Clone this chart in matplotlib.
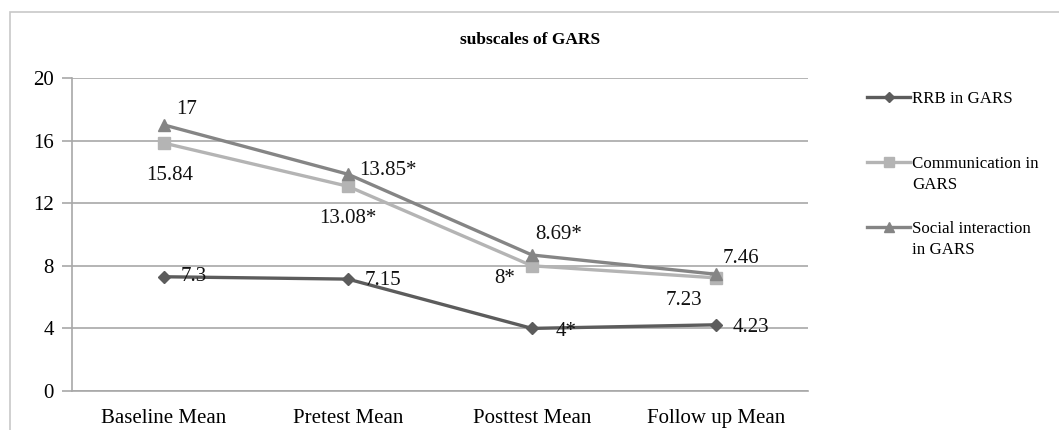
import numpy as np
import matplotlib
matplotlib.use("Agg")
import matplotlib.pyplot as plt
from matplotlib.lines import Line2D
from matplotlib.patches import Rectangle

plt.rcParams['font.family'] = ['Liberation Serif', 'DejaVu Serif']

categories = ["Baseline Mean", "Pretest Mean", "Posttest Mean", "Follow up Mean"]
series_names = ["RRB in GARS", "Communication in\nGARS", "Social interaction\nin GARS"]
rrb = [7.3, 7.15, 4.0, 4.23]
comm = [15.84, 13.08, 8.0, 7.23]
social = [17.0, 13.85, 8.69, 7.46]
rrb_labels = ["7.3", "7.15", "4*", "4.23"]
comm_labels = ["15.84", "13.08*", "8*", "7.23"]
social_labels = ["17", "13.85*", "8.69*", "7.46"]

col_rrb = "#5c5c5c"
col_comm = "#b4b4b4"
col_soc = "#858585"
grid_col = "#a8a8a8"

fig = plt.figure(figsize=(10.59, 4.30), dpi=100)
# outer chart border
fig.patches.append(Rectangle((10 / 1059, -0.1), 1.2, (430 - 12) / 430 + 0.1,
                             transform=fig.transFigure, fill=False,
                             edgecolor="#c8c8c8", linewidth=1.2))

ax = fig.add_axes([72 / 1059, 39 / 430, 736 / 1059, 313 / 430])
x = np.arange(len(categories))

ax.plot(x, rrb, color=col_rrb, lw=2.4, marker="D", ms=6, zorder=3)
ax.plot(x, comm, color=col_comm, lw=2.4, marker="s", ms=8, zorder=3)
ax.plot(x, social, color=col_soc, lw=2.4, marker="^", ms=9, zorder=4)

# data labels (offsets in points)
rrb_off = [(12, 0), (12, -1), (17, -2), (12, -2)]
comm_off = [(4, -23), (0, -23), (-20, -9), (-23, -16)]
soc_off = [(9, 11), (8, 3), (2, 15), (5, 11)]
for i in range(len(categories)):
    ax.annotate(rrb_labels[i], (x[i], rrb[i]), xytext=rrb_off[i], textcoords="offset points",
                ha="left", va="center", fontsize=15, color="#111111")
    ax.annotate(comm_labels[i], (x[i], comm[i]), xytext=comm_off[i], textcoords="offset points",
                ha="center", va="center", fontsize=15, color="#111111")
    ax.annotate(social_labels[i], (x[i], social[i]), xytext=soc_off[i], textcoords="offset points",
                ha="left", va="center", fontsize=15, color="#111111")

ax.set_xlim(-0.5, 3.5)
ax.set_ylim(0, 20)
ax.set_yticks([0, 4, 8, 12, 16, 20])
ax.set_xticks(x)
ax.set_xticklabels(categories)
ax.grid(axis="y", color=grid_col, lw=1.2)
ax.set_axisbelow(True)
for s in ["top", "right"]:
    ax.spines[s].set_visible(False)
for s in ["left", "bottom"]:
    ax.spines[s].set_color(grid_col)
    ax.spines[s].set_linewidth(1.2)
ax.tick_params(axis="y", length=7, width=1.2, color=grid_col, pad=6, labelsize=15)
ax.tick_params(axis="x", length=0, pad=13, labelsize=15)

fig.text(530 / 1059, 1 - 40 / 430, "subscales of GARS", ha="center", va="center",
         fontsize=12.5, fontweight="bold")

# legend
leg_items = [(series_names[0], col_rrb, "D", 5, 97),
             (series_names[1], col_comm, "s", 7, 162),
             (series_names[2], col_soc, "^", 7, 227)]
for name, c, m, ms, yp in leg_items:
    yf = 1 - yp / 430
    fig.add_artist(Line2D([867 / 1059, 910 / 1059], [yf, yf], color=c, lw=2.4,
                          transform=fig.transFigure))
    fig.add_artist(Line2D([888.5 / 1059], [yf], color=c, marker=m, ms=ms,
                          transform=fig.transFigure))
    fig.text(912 / 1059, yf + 6 / 430, name, ha="left", va="top", fontsize=12.2,
             linespacing=1.38)

fig.savefig("out.png", dpi=100)
